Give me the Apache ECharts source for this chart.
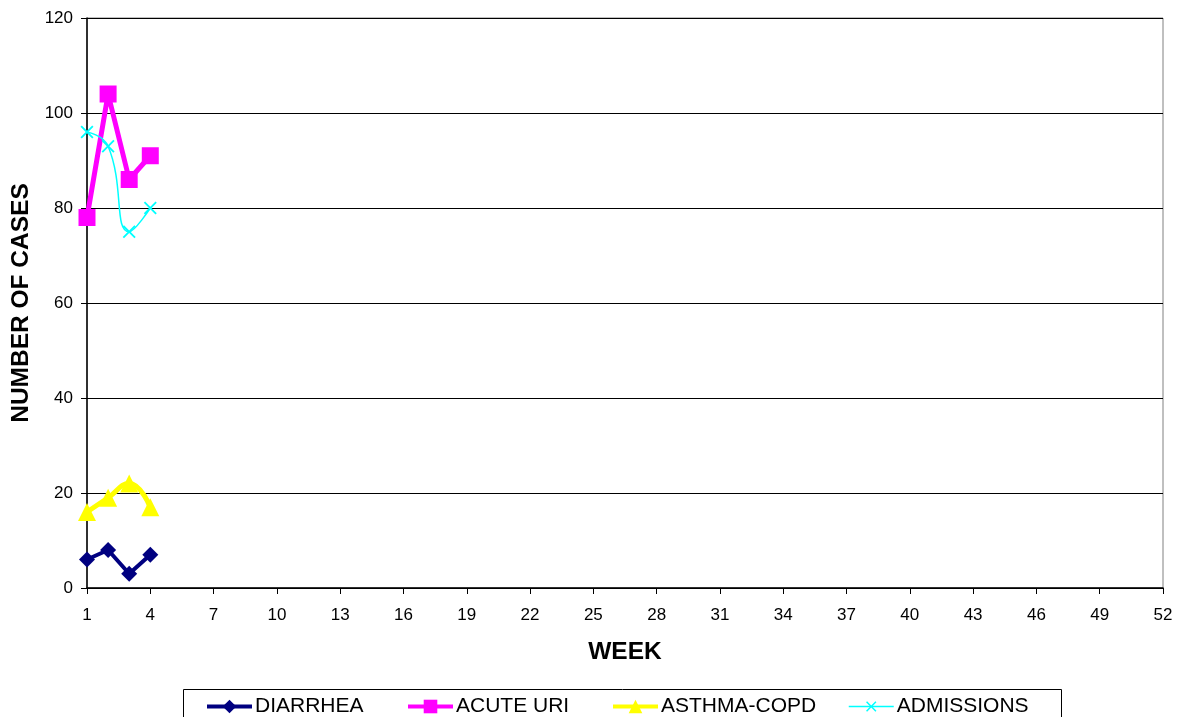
<!DOCTYPE html>
<html><head><meta charset="utf-8">
<script src="https://cdn.jsdelivr.net/npm/echarts@6/dist/echarts.min.js"></script>
<style>html,body{margin:0;padding:0;background:#fff}#c{width:1181px;height:717px}</style>
</head><body><div id="c"></div>
<script>
const weeks = Array.from({length: 52}, (_, i) => String(i + 1));
const seriesNames = ['DIARRHEA', 'ACUTE URI', 'ASTHMA-COPD', 'ADMISSIONS'];
const diarrhea = [6, 8, 3, 7];
const acuteUri = [78, 104, 86, 91];
const asthmaCopd = [16, 19, 22, 17];
const admissions = [96, 93, 75, 80];
const yTicks = [0, 20, 40, 60, 80, 100, 120];

const FONT = '"Liberation Sans", Arial, sans-serif';
const xSym = 'path://M0,1L1,0L5,4L9,0L10,1L6,5L10,9L9,10L5,6L1,10L0,9L4,5Z';

function leg(name, left, lw, ih) {
  return {
    data: [name], left: left, top: 696, orient: 'horizontal',
    itemWidth: 45, itemHeight: ih, itemGap: 5, padding: 0,
    lineStyle: {width: lw},
    textStyle: {fontFamily: FONT, fontSize: 21, color: '#000', padding: [2, 0, 0, -2]},
    selectedMode: false
  };
}

const chart = echarts.init(document.getElementById('c'));
chart.setOption({
  backgroundColor: '#fff',
  animation: false,
  grid: {left: 87, right: 18, top: 18, bottom: 129, show: true, borderColor: '#808080', borderWidth: 1,
         containLabel: false, outerBoundsMode: 'none'},
  legend: [leg(seriesNames[0], 205, 4, 17), leg(seriesNames[1], 406, 4, 17), leg(seriesNames[2], 611, 4, 17), leg(seriesNames[3], 848, 1.5, 13)],
  graphic: [{type: 'rect', shape: {x: 183.5, y: 689.5, width: 878, height: 40}, style: {fill: 'none', stroke: '#000', lineWidth: 1}, silent: true}],
  xAxis: {
    type: 'category', data: weeks, boundaryGap: false,
    name: 'WEEK', nameLocation: 'middle', nameGap: 52,
    nameTextStyle: {fontFamily: FONT, fontSize: 24.5, fontWeight: 'bold', color: '#000'},
    axisLine: {lineStyle: {color: '#000', width: 1.5}},
    axisTick: {interval: 2, length: 6, lineStyle: {color: '#000'}},
    axisLabel: {interval: 2, fontFamily: FONT, fontSize: 17, color: '#000', margin: 19},
    splitLine: {show: false}
  },
  yAxis: {
    type: 'value', min: 0, max: 120, interval: 20,
    name: 'NUMBER OF CASES', nameLocation: 'middle', nameGap: 53, nameRotate: 90,
    nameTextStyle: {fontFamily: FONT, fontSize: 24.5, fontWeight: 'bold', color: '#000'},
    axisLine: {show: true, lineStyle: {color: '#000', width: 1.5}},
    axisTick: {show: true, length: 6, lineStyle: {color: '#000'}},
    axisLabel: {fontFamily: FONT, fontSize: 17, color: '#000', margin: 14,
      formatter: v => yTicks.includes(v) ? String(v) : ''},
    splitLine: {lineStyle: {color: '#000', width: 1}}
  },
  series: [
    {name: seriesNames[0], type: 'line', data: diarrhea, color: '#000080', showAllSymbol: true,
     symbol: 'diamond', symbolSize: 16, lineStyle: {width: 4}, itemStyle: {color: '#000080'}},
    {name: seriesNames[1], type: 'line', data: acuteUri, color: '#FF00FF', showAllSymbol: true,
     symbol: 'rect', symbolSize: 17, lineStyle: {width: 5}, itemStyle: {color: '#FF00FF'}},
    {name: seriesNames[2], type: 'line', data: asthmaCopd, color: '#FFFF00', smooth: true, showAllSymbol: true,
     symbol: 'triangle', symbolSize: 18, lineStyle: {width: 5}, itemStyle: {color: '#FFFF00'}},
    {name: seriesNames[3], type: 'line', data: admissions, color: '#00FFFF', smooth: true, showAllSymbol: true,
     symbol: xSym, symbolSize: 13, lineStyle: {width: 1.5}, itemStyle: {color: '#00FFFF'}}
  ]
});
</script>
</body></html>
